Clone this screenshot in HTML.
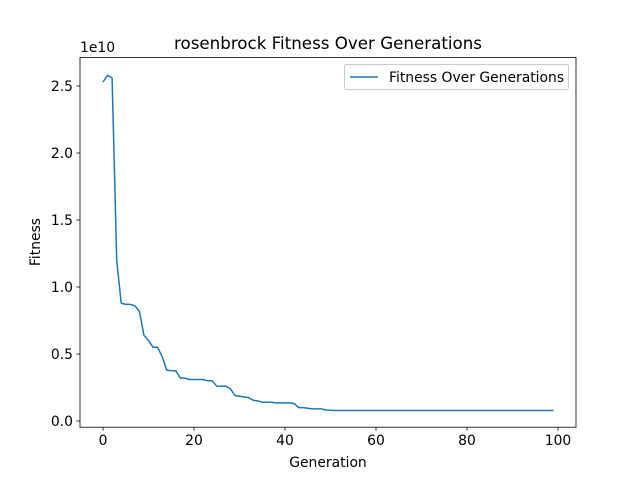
<!DOCTYPE html>
<html><head><meta charset="utf-8"><style>
body{margin:0;background:#fff}
svg text{font-family:"DejaVu Sans","Liberation Sans",sans-serif;fill:#000}
</style></head><body>
<svg width="640" height="480">
<rect width="640" height="480" fill="#fff"/>
<g id="ticks"></g>
<path id="line" fill="none" stroke="#1f77b4" stroke-width="1.5" stroke-linejoin="round"/>
<rect x="80" y="57.6" width="496" height="369.6" fill="none" stroke="#000" stroke-width="0.8"/>
<text x="328" y="49" font-size="16.7" text-anchor="middle">rosenbrock Fitness Over Generations</text>
<text x="328" y="467" font-size="13.9" text-anchor="middle">Generation</text>
<text x="40" y="242" font-size="13.9" text-anchor="middle" transform="rotate(-90 40 242)">Fitness</text>
<text x="80" y="52" font-size="13.9">1e10</text>
<g>
<rect x="344.5" y="64.5" width="224" height="25" rx="2" fill="#fff" stroke="#ccc"/>
<line x1="350" y1="77" x2="378" y2="77" stroke="#1f77b4" stroke-width="1.5"/>
<text x="389" y="82" font-size="13.9">Fitness Over Generations</text>
</g>
</svg>
<script>
const xTicks=[0,20,40,60,80,100];
const yTicks=[0,0.5,1.0,1.5,2.0,2.5];
const yTickLabels=["0.0","0.5","1.0","1.5","2.0","2.5"];
const head=[2.53,2.58,2.56,1.2,0.88,0.87,0.87,0.86,0.82,0.64,0.6,0.55,0.55,0.48,0.38,0.375,0.375,0.32,0.32,0.31,0.31,0.31,0.31,0.30,0.30,0.26,0.26,0.26,0.24,0.19,0.185,0.18,0.175,0.155,0.15,0.14,0.14,0.14,0.135,0.135,0.135,0.135,0.13,0.1,0.1,0.095,0.09,0.09,0.09,0.082,0.08];
const tail=[0.078,0.078,0.078,0.078,0.078,0.078,0.078,0.078,0.078,0.078,0.078,0.078,0.078,0.078,0.078,0.078,0.078,0.078,0.078,0.078,0.078,0.078,0.078,0.078,0.078,0.078,0.078,0.078,0.078,0.078,0.078,0.078,0.078,0.078,0.078,0.078,0.078,0.078,0.078,0.078,0.078,0.078,0.078,0.078,0.078,0.078,0.078,0.078,0.078];
const fitness=head.concat(tail);
const xs=v=>103+v*4.55;
const ys=v=>421-v*134;
const ns="http://www.w3.org/2000/svg";
const g=document.getElementById('ticks');
function mk(t,a){const e=document.createElementNS(ns,t);for(const k in a)e.setAttribute(k,a[k]);g.appendChild(e);return e;}
xTicks.forEach(v=>{
 const l=mk('line',{x1:xs(v),x2:xs(v),y1:427.2,y2:430.7,stroke:'#000','stroke-width':0.8});
 
 
 const t=mk('text',{x:xs(v),y:445,'font-size':13.9,'text-anchor':'middle'});t.textContent=v;
 
 
});
yTicks.forEach((v,i)=>{
 const l=mk('line',{x1:76.5,x2:80,y1:ys(v),y2:ys(v),stroke:'#000','stroke-width':0.8});
 
 
 const t=mk('text',{x:73,y:ys(v)+5,'font-size':13.9,'text-anchor':'end'});t.textContent=yTickLabels[i];
 
 
});
document.getElementById('line').setAttribute('d',fitness.map((v,i)=>(i?'L':'M')+xs(i).toFixed(1)+','+ys(v).toFixed(1)).join(''));
</script>
</body></html>
